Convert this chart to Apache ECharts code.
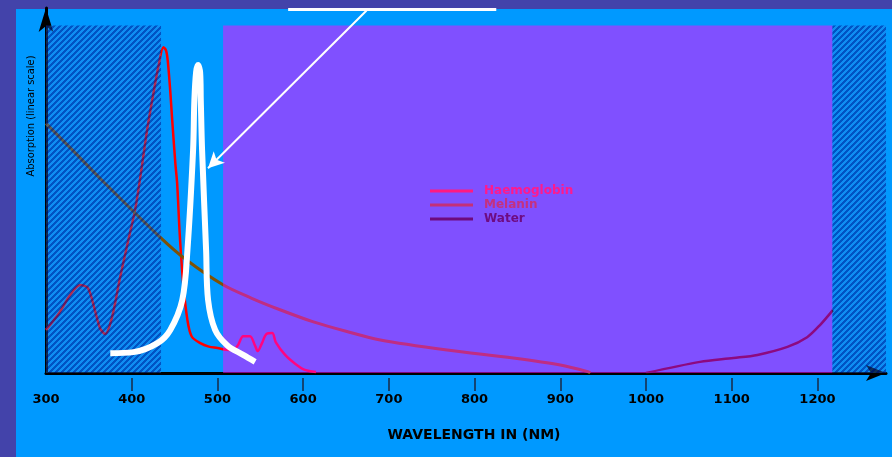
<!DOCTYPE html>
<html><head><meta charset="utf-8">
<script src="https://cdn.jsdelivr.net/npm/echarts@6/dist/echarts.min.js"></script>
<style>
html,body{margin:0;padding:0;width:892px;height:457px;overflow:hidden;background:#4343aa;}
#panel{position:absolute;left:16px;top:9px;width:876px;height:448px;background:#0099ff;}
#chart{position:absolute;left:0;top:0;width:892px;height:457px;}
</style></head><body>
<div id="panel"></div><div id="chart"></div>
<script>
// ---- data ----
const hbNm  = [300,316,328,340,349,357,363,369,377,386,396,404,411,418,425,431,437,440,442,445,447,451,453,456,460,465,470,480,490,500,510,518,524,530,538,544,547,552,557,564,568,579,591,602,615];
const hbAbs = [12.4,17.5,22.4,25.3,24.4,18.1,12.9,11.2,16,27,38.2,47,58,70,80,88,93.7,92.8,89.9,81,73.6,60,54.6,40,25.9,15.2,10.5,8.6,7.6,7.2,6.7,6.6,8.0,10.6,10.6,7.8,6.3,8.6,11.2,11.5,8.9,5.2,2.6,0.9,0.3];
const melNm  = [300,331,363,433,464,507,540,573,612,650,690,768,845,900,932,935];
const melAbs = [71.8,64.1,56.0,39.1,32.5,25.3,21.5,18.2,14.7,12.0,9.5,6.6,4.3,2.3,0.4,0];
const watNm  = [1000,1063,1102,1130,1165,1188,1203,1218];
const watAbs = [0,3.2,4.3,5.2,7.5,10.3,13.8,18.1];
const srcNm  = [375,402,430,445,459,465,471.6,473.1,475.1,477.4,479.8,480.6,482.1,486.8,489.1,497.3,511.3,530,544];
const srcAbs = [5.7,6.0,8.6,12.4,21.0,35.3,64.1,78.4,86.5,88.6,86.5,78.4,64.1,35.3,21.0,12.4,8.0,5.2,3.2];
const regionStart = [300, 506.6, 1217.5];
const regionEnd   = [434.2, 1217.5, 1288];
const regionKind  = ['hatch', 'tint', 'hatch'];
const regionLow = -1.2, regionHigh = 100;
const arrowFrom = [674, 104.3], arrowTo = [489, 58.9];
const barFrom = [582.5, 104.6], barTo = [825.3, 104.6];
const tickLabels = [300,400,500,600,700,800,900,1000,1100,1200];
const tickMarks  = [400,500,600,700,800,900,1000,1100,1200];
const seriesNames = ['Haemoglobin','Melanin','Water'];

// ---- hatch pattern ----
const P = 6;
const pat = document.createElement('canvas');
pat.width = P; pat.height = P;
const pctx = pat.getContext('2d');
const img = pctx.createImageData(P, P);
for (let j = 0; j < P; j++) for (let i = 0; i < P; i++) {
  const k = (j * P + i) * 4;
  const dark = ((i + j) % P) < 3;
  if (dark) { img.data[k]=0; img.data[k+1]=40; img.data[k+2]=160; img.data[k+3]=158; }
  else { img.data[k]=40; img.data[k+1]=120; img.data[k+2]=220; img.data[k+3]=97; }
}
pctx.putImageData(img, 0, 0);

const zip = (a, b) => a.map((v, i) => [v, b[i]]);
const areaData = regionStart.map((s, i) => [
  { xAxis: s, yAxis: regionHigh,
    itemStyle: regionKind[i] === 'tint'
      ? { color: 'rgba(255,7,255,0.5)' }
      : { color: { image: pat, repeat: 'repeat' } } },
  { xAxis: regionEnd[i], yAxis: regionLow }
]);

const chart = echarts.init(document.getElementById('chart'));
const bold = { fontFamily: 'DejaVu Sans', fontWeight: 'bold', color: '#000' };
chart.setOption({
  backgroundColor: 'transparent',
  animation: false,
  grid: { left: 46, right: 6, top: 8, bottom: 84 },
  legend: {
    left: 425, top: 180, orient: 'vertical', itemGap: 2, z: 20,
    icon: 'rect', itemWidth: 43, itemHeight: 3,
    textStyle: { fontFamily: 'DejaVu Sans', fontWeight: 'bold', fontSize: 12, padding: [0,0,0,6] },
    data: [
      { name: seriesNames[0], itemStyle: { color: '#ff1a80' }, textStyle: { color: '#ff1a8c' } },
      { name: seriesNames[1], itemStyle: { color: '#c43078' }, textStyle: { color: '#c5317e' } },
      { name: seriesNames[2], itemStyle: { color: '#6e0a7e' }, textStyle: { color: '#6e0c82' } }
    ]
  },
  xAxis: [{
    type: 'value', min: 300, max: 1280,
    axisLine: { lineStyle: { color: '#000', width: 3 }, symbol: ['none', 'arrow'], symbolSize: [12, 20] },
    axisTick: { show: false }, splitLine: { show: false },
    axisLabel: Object.assign({ customValues: tickLabels, margin: 20, fontSize: 13, formatter: v => String(v) }, bold),
    name: 'WAVELENGTH IN (NM)', nameLocation: 'middle', nameGap: 55,
    nameTextStyle: Object.assign({ fontSize: 14, padding: [0,0,0,16] }, bold)
  }, {
    type: 'value', min: 300, max: 1280, position: 'bottom', offset: 5,
    axisLine: { show: false }, axisLabel: { show: false }, splitLine: { show: false },
    axisTick: { show: true, customValues: tickMarks, length: 13, lineStyle: { color: '#1a2a44', width: 1.5 } }
  }],
  yAxis: {
    type: 'value', min: 0, max: 105,
    axisLine: { show: true, lineStyle: { color: '#000', width: 3 }, symbol: ['none', 'arrow'], symbolSize: [11, 24] },
    axisLabel: { show: false }, axisTick: { show: false }, splitLine: { show: false }
  },
  graphic: [{
    type: 'text', x: 31, y: 116, rotation: Math.PI / 2, z: 10,
    style: { text: 'Absorption (linear scale)', fill: '#000', fontSize: 11,
      fontFamily: 'DejaVu Sans Condensed, Liberation Sans Narrow, sans-serif',
      align: 'center', verticalAlign: 'middle' }
  }],
  series: [
    { name: seriesNames[0], type: 'line', data: zip(hbNm, hbAbs), showSymbol: false, smooth: 0.3, z: 2,
      lineStyle: { color: '#ff0000', width: 2.5 }, itemStyle: { color: '#ff0000' } },
    { name: seriesNames[1], type: 'line', data: zip(melNm, melAbs), showSymbol: false, smooth: 0.3, z: 2,
      lineStyle: { color: '#7e5206', width: 3 }, itemStyle: { color: '#7e5206' } },
    { name: seriesNames[2], type: 'line', data: zip(watNm, watAbs), showSymbol: false, smooth: 0.3, z: 2,
      lineStyle: { color: '#1a0c00', width: 2.5 }, itemStyle: { color: '#1a0c00' } },
    { name: 'regions', type: 'line', data: [], clip: false, z: 3, silent: true,
      markArea: { silent: true, z: 3, data: areaData } },
    { name: 'source', type: 'line', data: zip(srcNm, srcAbs), showSymbol: false, smooth: 0.35, z: 6, clip: false,
      lineStyle: { color: '#ffffff', width: 6 }, itemStyle: { color: '#ffffff' },
      markLine: {
        silent: true, z: 6, symbol: ['none', 'none'], label: { show: false },
        lineStyle: { color: '#ffffff', type: 'solid', width: 2 },
        data: [
          [{ coord: arrowFrom }, { coord: arrowTo, symbol: 'arrow', symbolSize: [12, 16] }],
          [{ coord: barFrom, lineStyle: { width: 3 } }, { coord: barTo }]
        ]
      } }
  ]
});
</script>
</body></html>
